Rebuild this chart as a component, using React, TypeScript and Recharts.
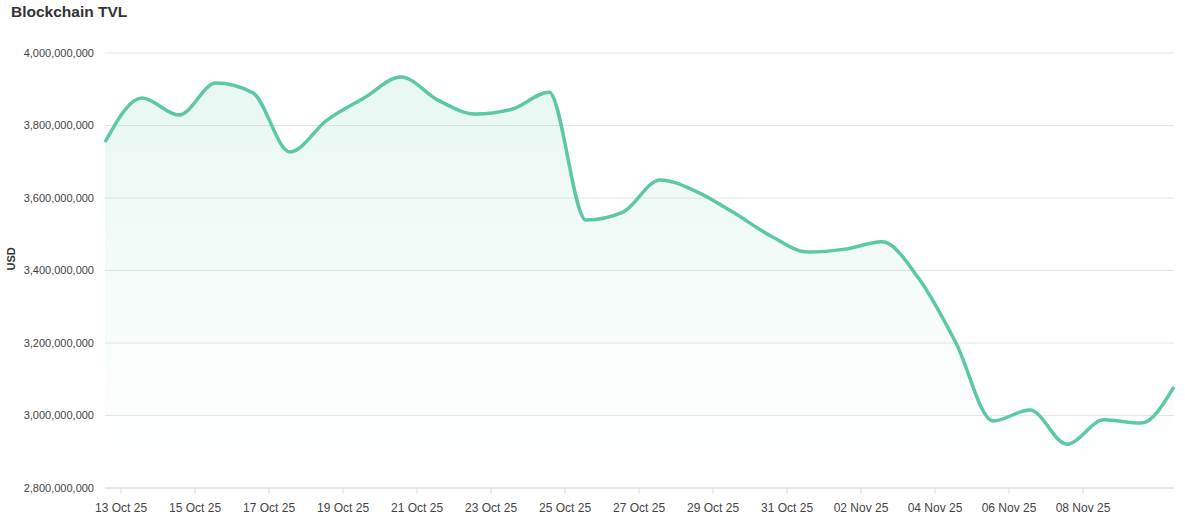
import { AreaChart, Area, XAxis, YAxis, CartesianGrid } from 'recharts';

// snapshot times (UTC); last one is a partial day
const TIMES = [
  '2025-10-12T13:35:00Z', '2025-10-13T13:35:00Z', '2025-10-14T13:35:00Z', '2025-10-15T13:35:00Z',
  '2025-10-16T13:35:00Z', '2025-10-17T13:35:00Z', '2025-10-18T13:35:00Z', '2025-10-19T13:35:00Z',
  '2025-10-20T13:35:00Z', '2025-10-21T13:35:00Z', '2025-10-22T13:35:00Z', '2025-10-23T13:35:00Z',
  '2025-10-24T13:35:00Z', '2025-10-25T13:35:00Z', '2025-10-26T13:35:00Z', '2025-10-27T13:35:00Z',
  '2025-10-28T13:35:00Z', '2025-10-29T13:35:00Z', '2025-10-30T13:35:00Z', '2025-10-31T13:35:00Z',
  '2025-11-01T13:35:00Z', '2025-11-02T13:35:00Z', '2025-11-03T13:35:00Z', '2025-11-04T13:35:00Z',
  '2025-11-05T13:35:00Z', '2025-11-06T13:35:00Z', '2025-11-07T13:35:00Z', '2025-11-08T13:35:00Z',
  '2025-11-09T13:35:00Z', '2025-11-10T11:00:00Z',
];

// TVL in USD millions
const TVL_M = [
  3754, 3876, 3829, 3917, 3890, 3727, 3815, 3876, 3934, 3870,
  3832, 3845, 3892, 3539, 3561, 3650, 3617, 3559, 3495, 3451,
  3459, 3479, 3377, 3200, 2985, 3015, 2921, 2988, 2979, 3079,
];

const X_TICKS = [
  '2025-10-13', '2025-10-15', '2025-10-17', '2025-10-19', '2025-10-21', '2025-10-23', '2025-10-25',
  '2025-10-27', '2025-10-29', '2025-10-31', '2025-11-02', '2025-11-04', '2025-11-06', '2025-11-08',
];

const Y_TICKS = [2800000000, 3000000000, 3200000000, 3400000000, 3600000000, 3800000000, 4000000000];

const MONTHS = ['Jan', 'Feb', 'Mar', 'Apr', 'May', 'Jun', 'Jul', 'Aug', 'Sep', 'Oct', 'Nov', 'Dec'];

const data = TIMES.map((t, i) => ({ t: Date.parse(t), tvl: TVL_M[i] * 1e6 }));
const xTicks = X_TICKS.map((d) => Date.parse(d + 'T00:00:00Z'));

const fmtDate = (ms: number) => {
  const d = new Date(ms);
  const dd = String(d.getUTCDate()).padStart(2, '0');
  const yy = String(d.getUTCFullYear()).slice(2);
  return `${dd} ${MONTHS[d.getUTCMonth()]} ${yy}`;
};

const fmtNum = (v: number) => v.toLocaleString('en-US');

const FONT = 'Arial, "Liberation Sans", Helvetica, sans-serif';

export default function App() {
  return (
    <div
      style={{
        position: 'fixed',
        left: 0,
        top: 0,
        width: 1185,
        height: 520,
        background: '#fff',
        fontFamily: FONT,
      }}
    >
      <div
        style={{
          position: 'absolute',
          left: 11,
          top: 3,
          fontSize: 15.5,
          fontWeight: 700,
          color: '#333',
        }}
      >
        Blockchain TVL
      </div>
      <AreaChart
        width={1185}
        height={520}
        data={data}
        margin={{ top: 53, right: 11, bottom: 0, left: 0 }}
      >
        <defs>
          <linearGradient id="tvlFill" x1="0" y1="0" x2="0" y2="1">
            <stop offset="0%" stopColor="#5cc9a0" stopOpacity={0.24} />
            <stop offset="85%" stopColor="#5cc9a0" stopOpacity={0.02} />
            <stop offset="100%" stopColor="#5cc9a0" stopOpacity={0} />
          </linearGradient>
        </defs>
        <CartesianGrid vertical={false} stroke="#e6e6e6" />
        <XAxis
          dataKey="t"
          type="number"
          scale="time"
          domain={['dataMin', 'dataMax']}
          ticks={xTicks}
          tickFormatter={fmtDate}
          height={32}
          tickSize={6}
          tickMargin={9}
          stroke="#dcdcdc"
          tick={{ fontSize: 12, fill: '#444', fontFamily: FONT }}
        />
        <YAxis
          domain={[2800000000, 4000000000]}
          ticks={Y_TICKS}
          tickFormatter={fmtNum}
          width={105}
          axisLine={false}
          tickLine={false}
          tickMargin={5}
          tick={{ fontSize: 11, fill: '#444', fontFamily: FONT }}
          label={{
            value: 'USD',
            angle: -90,
            position: 'insideLeft',
            offset: 11,
            style: { fontSize: 11, fontWeight: 700, fill: '#333', fontFamily: FONT },
          }}
        />
        <Area
          type="monotone"
          dataKey="tvl"
          stroke="#5cc9a0"
          strokeWidth={3.5}
          fill="url(#tvlFill)"
          isAnimationActive={false}
          dot={false}
          activeDot={false}
        />
      </AreaChart>
    </div>
  );
}
